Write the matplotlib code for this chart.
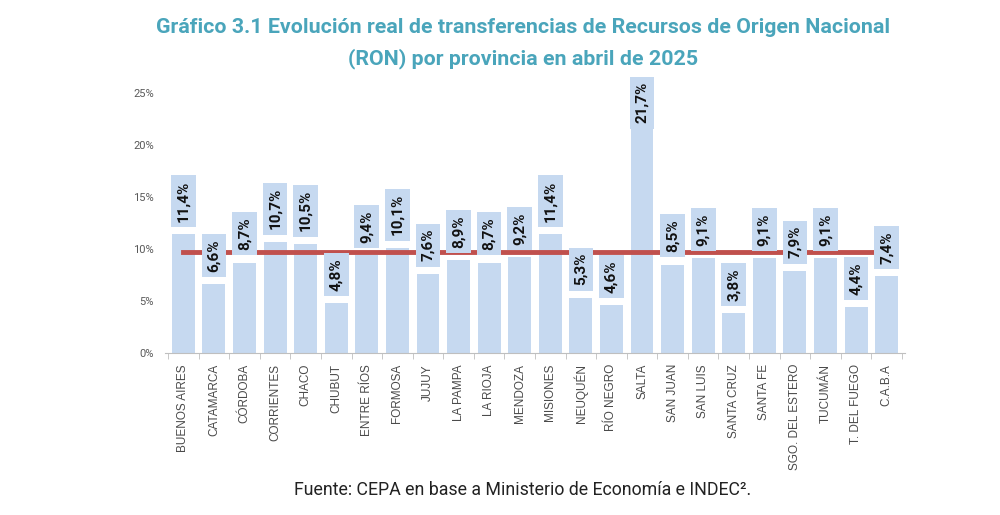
import numpy as np
import matplotlib.pyplot as plt

provincias = ['BUENOS AIRES', 'CATAMARCA', 'CÓRDOBA', 'CORRIENTES', 'CHACO', 'CHUBUT',
              'ENTRE RÍOS', 'FORMOSA', 'JUJUY', 'LA PAMPA', 'LA RIOJA', 'MENDOZA',
              'MISIONES', 'NEUQUÉN', 'RÍO NEGRO', 'SALTA', 'SAN JUAN', 'SAN LUIS',
              'SANTA CRUZ', 'SANTA FE', 'SGO. DEL ESTERO', 'TUCUMÁN', 'T. DEL FUEGO', 'C.A.B.A']
variacion = [11.4, 6.6, 8.7, 10.7, 10.5, 4.8, 9.4, 10.1, 7.6, 8.9, 8.7, 9.2,
             11.4, 5.3, 4.6, 21.7, 8.5, 9.1, 3.8, 9.1, 7.9, 9.1, 4.4, 7.4]
promedio = 9.7

plt.rcParams['font.family'] = ['Roboto', 'DejaVu Sans']

fig = plt.figure(figsize=(10, 5.15), dpi=100)
ax = fig.add_axes([0.165, 0.3146, 0.74, 0.5048])

x = np.arange(len(provincias))
bar_color = '#c6d9f0'
ax.bar(x, variacion, width=0.75, color=bar_color, zorder=1)
ax.plot(x, [promedio] * len(x), color='#c0504d', linewidth=3.5, zorder=2)

# etiquetas rotadas sobre cada barra
for xi, v in zip(x, variacion):
    lbl = f'{v:.1f}%'.replace('.', ',')
    off = 9 if v < 20 else 3
    ax.annotate(lbl, (xi, v), xytext=(0, off), textcoords='offset points',
                rotation=90, ha='center', va='bottom', fontsize=11, fontweight='bold',
                color='#111111', zorder=3, annotation_clip=False,
                bbox=dict(boxstyle='square,pad=0.35', fc=bar_color, ec='none'))

ax.set_xlim(-0.6, len(x) - 0.4)
ax.set_ylim(0, 25)
ax.set_yticks([0, 5, 10, 15, 20, 25])
ax.set_yticklabels([f'{t}%' for t in [0, 5, 10, 15, 20, 25]], color='#595959', fontsize=8)
ax.set_xticks(x)
ax.set_xticklabels(provincias, rotation=90, fontsize=8.5, color='#4a4a4a',
                   family=['Liberation Sans', 'DejaVu Sans'])
ax.set_xticks(np.arange(-0.5, len(x), 1), minor=True)
ax.tick_params(axis='x', which='major', length=0, pad=8)
ax.tick_params(axis='x', which='minor', length=4, color='#bfbfbf')
ax.tick_params(axis='y', length=0, pad=8)
for s in ['top', 'right', 'left']:
    ax.spines[s].set_visible(False)
ax.spines['bottom'].set_color('#bfbfbf')

fig.text(0.523, 0.946, 'Gráfico 3.1 Evolución real de transferencias de Recursos de Origen Nacional',
         ha='center', va='center', fontsize=15.4, fontweight='bold', color='#4aa5bb')
fig.text(0.523, 0.887, '(RON) por provincia en abril de 2025',
         ha='center', va='center', fontsize=15.4, fontweight='bold', color='#4aa5bb')
fig.text(0.523, 0.049, 'Fuente: CEPA en base a Ministerio de Economía e INDEC².',
         ha='center', va='center', fontsize=12.8, color='#222222')

fig.savefig('out.png', dpi=100)
